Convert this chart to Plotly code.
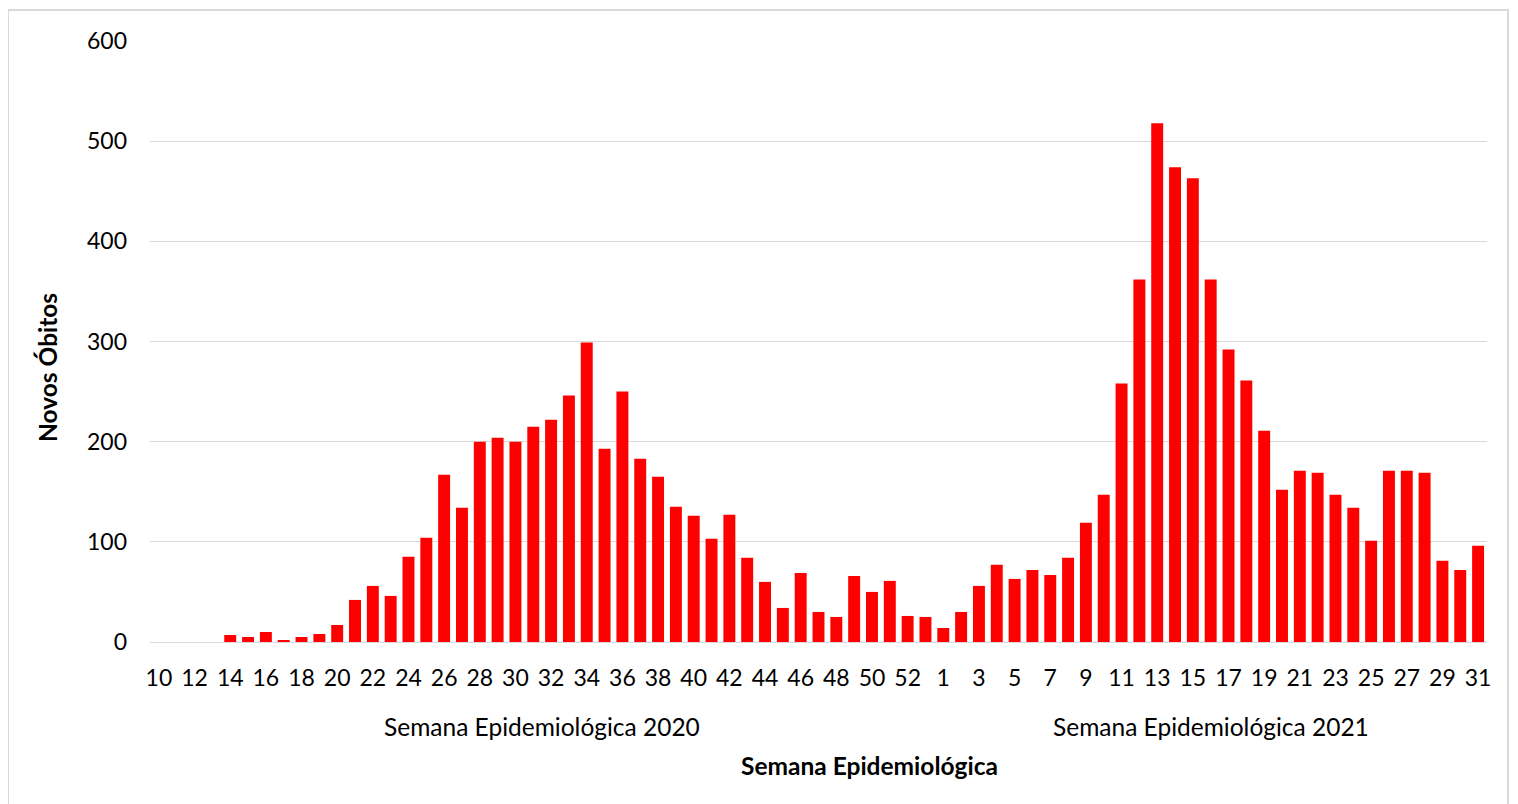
import plotly.graph_objs as go

# weekly new deaths, epi weeks 10-53 of 2020 then 1-31 of 2021
weeks2020 = list(range(10, 54))
deaths2020 = [0, 0, 0, 0, 7, 5, 10, 2, 5, 8,
              17, 42, 56, 46, 85, 104, 167, 134, 200, 204,
              200, 215, 222, 246, 299, 193, 250, 183, 165, 135,
              126, 103, 127, 84, 60, 34, 69, 30, 25, 66,
              50, 61, 26, 25]
weeks2021 = list(range(1, 32))
deaths2021 = [14, 30, 56, 77, 63, 72, 67, 84, 119, 147,
              258, 362, 518, 474, 463, 362, 292, 261, 211, 152,
              171, 169, 147, 134, 101, 171, 171, 169, 81, 72,
              96]

weekLabels = [str(w) for w in weeks2020] + [str(w) for w in weeks2021]
deaths = deaths2020 + deaths2021
xpos = list(range(len(deaths)))

# only every other week gets a label, restarting in each year
tickvals = [i for i in range(len(weeks2020)) if i % 2 == 0]
tickvals += [len(weeks2020) + i for i in range(len(weeks2021)) if i % 2 == 0]
ticktext = [weekLabels[i] for i in tickvals]

font = "Lato, 'Open Sans', sans-serif"

# page body has an 8px margin, so the figure is 8px smaller than the window
fig = go.Figure(layout={"plot_bgcolor": "white",
                        "paper_bgcolor": "white",
                        "width": 1510,
                        "height": 796,
                        "margin": dict(l=142, r=31, t=33, b=162),
                        "showlegend": False,
                        "bargap": 0.33,
                        "font": dict(family=font, size=23, color="black"),
                        })

fig.add_trace(go.Bar(x=xpos,
                     y=deaths,
                     marker=dict(color="#ff0000", line=dict(width=0)),
                     hovertemplate="%{y}<extra></extra>"))

fig.update_xaxes(range=[-0.5, len(deaths) - 0.5],
                 tickmode="array",
                 tickvals=tickvals,
                 ticktext=ticktext,
                 showgrid=False,
                 showline=False,
                 zeroline=False,
                 ticks="",
                 ticklabelstandoff=20,
                 tickfont=dict(size=23))
fig.update_yaxes(range=[0, 600],
                 dtick=100,
                 showgrid=True,
                 gridcolor="#d9d9d9",
                 gridwidth=1,
                 zeroline=True,
                 zerolinecolor="#d9d9d9",
                 zerolinewidth=1,
                 ticks="",
                 ticklabelstandoff=22,
                 tickfont=dict(size=23))

n20 = len(weeks2020)
n21 = len(weeks2021)
fig.add_annotation(x=(n20 - 1) / 2, xref="x", y=-0.1414, yref="paper",
                   text="Semana Epidemiológica 2020", showarrow=False,
                   font=dict(size=24.5), yanchor="middle")
fig.add_annotation(x=n20 + (n21 - 1) / 2, xref="x", y=-0.1414, yref="paper",
                   text="Semana Epidemiológica 2021", showarrow=False,
                   font=dict(size=24.5), yanchor="middle")
fig.add_annotation(x=0.538, xref="paper", y=-0.206, yref="paper",
                   text="<b>Semana Epidemiológica</b>", showarrow=False,
                   font=dict(size=24.5), yanchor="middle")
fig.add_annotation(x=-0.0763, xref="paper", y=0.4576, yref="paper",
                   text="<b>Novos Óbitos</b>", showarrow=False, textangle=-90,
                   font=dict(size=24.5), xanchor="center", yanchor="middle")

# thin grey frame around the chart area
fig.add_shape(type="rect", xref="paper", yref="paper",
              x0=-0.1062, x1=1.0157, y0=-0.3, y1=1.0516,
              line=dict(color="#d9d9d9", width=2), layer="below")

fig.write_html("out.html")
